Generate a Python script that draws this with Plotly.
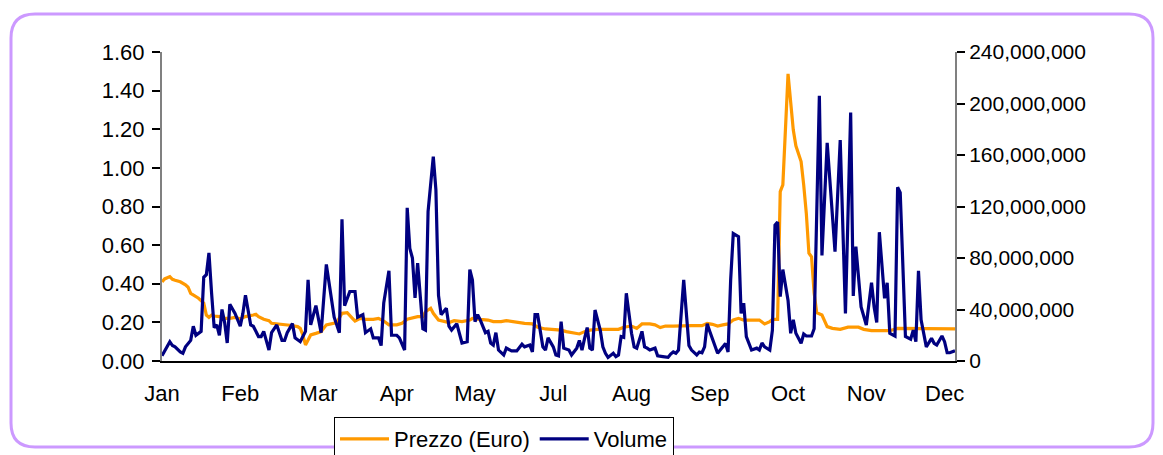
import plotly.graph_objects as go

# ---------------- data ----------------
# x = trading-session index (0 .. 304), month labels every 30 sessions
month_tick_pos = [0, 30, 60, 90, 120, 150, 180, 210, 240, 270, 300]
month_labels = ["Jan", "Feb", "Mar", "Apr", "May", "Jul", "Aug", "Sep", "Oct", "Nov", "Dec"]

price_day = [0, 1, 3, 4, 5, 7, 9, 10, 11, 13, 14, 16, 17, 18, 19, 20, 22, 24, 26, 28,
             30, 32, 34, 35, 36, 37, 39, 41, 42, 44, 47, 49, 52, 53, 54, 55, 56, 57, 59, 61,
             63, 65, 67, 69, 71, 73, 74, 76, 78, 81, 83, 85, 87, 90, 92, 94, 96, 98, 100, 101,
             103, 104, 106, 108, 110, 112, 115, 118, 119, 122, 125, 127, 130, 132, 134, 137, 139, 142, 144, 147,
             150, 151, 153, 155, 158, 160, 162, 164, 167, 171, 175, 177, 180, 182, 184, 187, 189, 191, 193, 196,
             199, 202, 203, 207, 209, 211, 213, 215, 217, 219, 221, 223, 226, 229, 231, 233, 234, 236, 237, 238,
             240, 242, 243, 245, 246, 247, 248, 249, 250, 251, 253, 255, 257, 260, 263, 267, 269, 272, 276, 279,
             282, 286, 290, 296, 304]
price_eur = [0.41, 0.425, 0.437, 0.423, 0.418, 0.41, 0.394, 0.382, 0.35, 0.333, 0.325, 0.30, 0.238, 0.226, 0.238, 0.233, 0.23, 0.221, 0.221, 0.226,
             0.218, 0.23, 0.233, 0.238, 0.242, 0.23, 0.216, 0.209, 0.195, 0.192, 0.19, 0.185, 0.178, 0.169, 0.135, 0.083, 0.109, 0.135, 0.143, 0.152,
             0.187, 0.195, 0.199, 0.247, 0.25, 0.221, 0.207, 0.221, 0.216, 0.216, 0.221, 0.207, 0.187, 0.187, 0.195, 0.216, 0.221, 0.23, 0.23, 0.255,
             0.273, 0.247, 0.212, 0.204, 0.199, 0.209, 0.204, 0.212, 0.221, 0.216, 0.212, 0.204, 0.204, 0.209, 0.204, 0.199, 0.195, 0.192, 0.175, 0.166,
             0.164, 0.163, 0.16, 0.152, 0.147, 0.14, 0.152, 0.16, 0.164, 0.164, 0.164, 0.175, 0.181, 0.169, 0.192, 0.192, 0.187, 0.173, 0.181, 0.181,
             0.183, 0.185, 0.183, 0.183, 0.195, 0.19, 0.181, 0.187, 0.192, 0.212, 0.221, 0.212, 0.212, 0.212, 0.192, 0.204, 0.216, 0.216, 0.877, 0.912,
             1.487, 1.197, 1.114, 1.033, 0.912, 0.765, 0.558, 0.54, 0.351, 0.25, 0.238, 0.178, 0.169, 0.164, 0.175, 0.175, 0.164, 0.157, 0.157, 0.157,
             0.169, 0.169, 0.166, 0.166, 0.166]

volume_day = [0, 3, 4, 5, 7, 8, 9, 11, 12, 13, 15, 16, 17, 18, 19, 20, 21, 22, 23, 24,
              25, 26, 28, 30, 31, 32, 34, 35, 37, 38, 39, 41, 42, 44, 46, 47, 48, 49, 50, 51,
              53, 54, 55, 56, 57, 59, 60, 61, 63, 65, 66, 68, 69, 70, 72, 74, 75, 77, 78, 80,
              81, 83, 84, 85, 87, 88, 90, 91, 93, 94, 95, 96, 97, 98, 99, 100, 101, 102, 104, 105,
              106, 107, 109, 110, 111, 113, 115, 117, 118, 119, 120, 121, 122, 124, 125, 126, 127, 128, 129, 131,
              132, 134, 136, 138, 139, 141, 142, 143, 144, 146, 147, 148, 150, 151, 152, 153, 154, 156, 157, 159,
              160, 161, 162, 163, 164, 165, 166, 168, 169, 170, 171, 173, 174, 175, 176, 177, 178, 180, 181, 182,
              184, 185, 186, 187, 189, 190, 192, 194, 195, 196, 197, 198, 200, 201, 202, 203, 205, 206, 207, 208,
              209, 210, 212, 213, 215, 216, 217, 218, 219, 221, 222, 223, 224, 225, 226, 228, 229, 230, 231, 233,
              234, 235, 236, 237, 238, 240, 241, 242, 243, 245, 246, 247, 249, 250, 252, 253, 255, 258, 260, 262,
              264, 265, 266, 268, 270, 272, 273, 274, 275, 277, 278, 279, 281, 282, 283, 285, 287, 288, 289, 290,
              291, 293, 295, 296, 297, 299, 300, 301, 302, 304]
volume_millions = [4, 15, 12, 11, 7, 6, 11, 16, 27, 20, 23, 65, 67, 84, 53, 26, 28, 20, 40, 30,
                   14, 44, 37, 27, 37, 51, 28, 27, 19, 19, 23, 8.5, 22, 28, 16, 16, 22, 26, 29, 18,
                   15, 19, 23, 63, 28, 43, 32, 22, 75, 47, 34, 22, 110, 43, 54, 54, 34, 36, 22, 25,
                   18, 18, 12, 45, 70, 20, 20, 18, 8.5, 119, 87.5, 80, 49, 76, 46, 25, 24, 116, 158.7, 133,
                   51, 36, 41, 27, 24, 29, 14, 15, 71, 63, 30.5, 36, 32, 22, 23, 14, 12.4, 22, 8.5, 4.7,
                   10, 7.8, 7.8, 13, 11, 12.4, 7, 36, 36, 11, 8.5, 18, 11, 4.7, 4, 30.5, 10, 8.5, 4.7, 10,
                   16, 8.5, 17.6, 26, 10, 8.5, 39.6, 24, 11, 6, 2.8, 6, 3.4, 4.7, 19, 18.4, 52.6, 21.5, 11, 10,
                   23, 11, 10, 8.5, 10, 4, 3.4, 2.8, 5.4, 7, 6, 8.5, 63, 40, 12, 8.5, 4.7, 7, 6.4, 11,
                   29, 23, 12.4, 6, 11, 13.7, 7, 63, 99, 96.5, 37, 45, 19, 13.7, 8.5, 10, 8.5, 14, 11, 8.5,
                   24, 105.6, 108, 50, 71, 47, 21.5, 32, 21.5, 13.7, 21, 19.4, 19.4, 25, 206, 82, 169.5, 85, 171.6, 37,
                   193, 50.5, 88.8, 42, 28, 60.8, 42, 30, 100, 48.7, 60.8, 21.5, 19.4, 135, 130.7, 19, 17, 24, 15, 70,
                   32, 11, 17.6, 13.7, 12.4, 19.4, 15, 6.4, 6.4, 8]

left_ticks = [0.0, 0.2, 0.4, 0.6, 0.8, 1.0, 1.2, 1.4, 1.6]
right_ticks = [0, 40e6, 80e6, 120e6, 160e6, 200e6, 240e6]

# ---------------- figure ----------------
FONT = "Liberation Sans, Arial, sans-serif"
FS = 22
fig = go.Figure()
fig.add_trace(go.Scatter(x=price_day, y=price_eur, mode="lines", name="Prezzo (Euro)",
                         line=dict(color="#FF9900", width=3.2), yaxis="y"))
fig.add_trace(go.Scatter(x=volume_day, y=[v * 1e6 for v in volume_millions], mode="lines",
                         name="Volume", line=dict(color="#000080", width=3.2), yaxis="y2"))

W, H = 1163, 455
L, R, T, B = 162, 208, 52, 94
pw, ph = W - L - R, H - T - B


def px(x):
    return (x - L) / pw


def py(y):
    return (H - B - y) / ph


x0, x1, yt, yb = px(11), px(1153), py(14), py(447)
rx, ry = 24 / pw, 24 / ph
border = (f"M {x0+rx},{yt} L {x1-rx},{yt} Q {x1},{yt} {x1},{yt-ry} L {x1},{yb+ry} "
          f"Q {x1},{yb} {x1-rx},{yb} L {x0+rx},{yb} Q {x0},{yb} {x0},{yb+ry} "
          f"L {x0},{yt-ry} Q {x0},{yt} {x0+rx},{yt} Z")

fig.update_layout(
    width=W, height=H, autosize=False,
    margin=dict(l=L, r=R, t=T, b=B, pad=0, autoexpand=False),
    paper_bgcolor="white", plot_bgcolor="white",
    font=dict(family=FONT, size=FS, color="black"),
    showlegend=True,
    legend=dict(orientation="h", x=px(334), y=py(417), xanchor="left", yanchor="top",
                bordercolor="black", borderwidth=1, bgcolor="white",
                font=dict(family=FONT, size=FS, color="black"),
                itemwidth=49, tracegroupgap=0),
    xaxis=dict(range=[0, 304], tickmode="array", tickvals=month_tick_pos, ticktext=month_labels,
               showline=True, linecolor="black", linewidth=2, ticks="", showgrid=False,
               zeroline=False, ticklabelstandoff=12, fixedrange=True),
    yaxis=dict(range=[0, 1.6], tickmode="array", tickvals=left_ticks, tickformat=".2f",
               showline=True, linecolor="#808080", linewidth=2, ticks="outside", ticklen=8,
               tickwidth=1.5, tickcolor="black", showgrid=False, zeroline=False,
               ticklabelstandoff=3),
    yaxis2=dict(range=[0, 240e6], tickmode="array", tickvals=right_ticks, tickformat=",d",
                overlaying="y", side="right", showline=True, linecolor="#808080", linewidth=2,
                ticks="outside", ticklen=8, tickwidth=1.5, tickcolor="black", showgrid=False,
                zeroline=False, ticklabelstandoff=0, tickfont=dict(size=21)),
    shapes=[dict(type="path", xref="paper", yref="paper", path=border,
                 line=dict(color="#CC99FF", width=3), fillcolor="rgba(0,0,0,0)", layer="below")],
)

fig.write_html("out.html", config={"displayModeBar": False},
               post_script="document.body.style.margin='0';document.body.style.overflow='hidden';")
